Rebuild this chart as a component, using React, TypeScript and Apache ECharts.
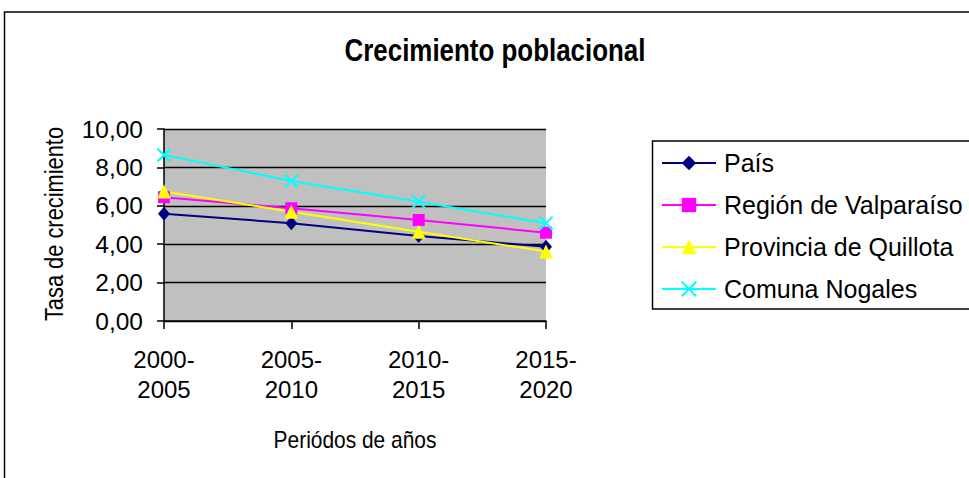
import React, { useEffect, useRef } from "react";
import * as echarts from "echarts";

const categories = ["2000-2005", "2005-2010", "2010-2015", "2015-2020"];
const seriesNames = ["País", "Región de Valparaíso", "Provincia de Quillota", "Comuna Nogales"];
const pais = [5.59, 5.09, 4.43, 3.87];
const region = [6.45, 5.87, 5.26, 4.6];
const provincia = [6.75, 5.69, 4.65, 3.62];
const comuna = [8.65, 7.29, 6.21, 5.09];
const colors = ["#000080", "#FF00FF", "#FFFF00", "#00FFFF"];
const symbols = ["diamond", "rect", "triangle", "path://M0,0L10,10M10,0L0,10"];
const symbolSizes = [[12, 14], 12, 14, 13];

const titleText = "Crecimiento poblacional";
const xTitle = "Periódos de años";
const yTitle = "Tasa de crecimiento";

const FONT = "'Liberation Sans', Arial, sans-serif";

export default function App() {
  const ref = useRef<HTMLDivElement>(null);
  useEffect(() => {
    if (!ref.current) return;
    const chart = echarts.init(ref.current, undefined, { renderer: "svg" });
    const values = [pais, region, provincia, comuna];
    chart.setOption({
      animation: false,
      backgroundColor: "#ffffff",
      graphic: [
        {
          type: "rect",
          shape: { x: 4.5, y: 12, width: 1000, height: 500 },
          style: { fill: "none", stroke: "#000", lineWidth: 1.5 },
          silent: true,
        },
        {
          type: "rect",
          shape: { x: 652.5, y: 141, width: 400, height: 168 },
          style: { fill: "none", stroke: "#000", lineWidth: 1.5 },
          silent: true,
        },
        {
          type: "text",
          x: 495,
          y: 50,
          scaleX: 0.81,
          style: {
            text: titleText,
            font: `bold 32px ${FONT}`,
            fill: "#000",
            textAlign: "center",
            textVerticalAlign: "middle",
          },
          silent: true,
        },
        {
          type: "text",
          x: 355,
          y: 440,
          scaleX: 0.91,
          style: {
            text: xTitle,
            font: `23px ${FONT}`,
            fill: "#000",
            textAlign: "center",
            textVerticalAlign: "middle",
          },
          silent: true,
        },
        {
          type: "text",
          x: 54,
          y: 224,
          rotation: Math.PI / 2,
          scaleX: 0.84,
          style: {
            text: yTitle,
            font: `26px ${FONT}`,
            fill: "#000",
            textAlign: "center",
            textVerticalAlign: "middle",
          },
          silent: true,
        },
      ],
      legend: {
        orient: "vertical",
        left: 661,
        top: 149,
        padding: 0,
        itemWidth: 54,
        itemHeight: 18,
        itemGap: 14,
        data: seriesNames,
        textStyle: { fontFamily: FONT, fontSize: 25, color: "#000", lineHeight: 28, padding: [0, 0, 0, 3] },
      },
      grid: {
        left: 164,
        top: 129,
        width: 382,
        height: 192,
        show: true,
        backgroundColor: "#C0C0C0",
        borderWidth: 0,
      },
      xAxis: {
        type: "category",
        data: categories,
        boundaryGap: false,
        axisLine: { lineStyle: { color: "#000", width: 1.5 } },
        axisTick: { show: true, alignWithLabel: true, length: 8, lineStyle: { color: "#000", width: 1.5 } },
        axisLabel: {
          interval: 0,
          margin: 23,
          fontFamily: FONT,
          fontSize: 24,
          lineHeight: 30,
          color: "#000",
          formatter: (s: string) => s.replace("-", "-\n"),
        },
        splitLine: { show: false },
      },
      yAxis: {
        type: "value",
        min: 0,
        max: 10,
        interval: 2,
        axisLine: { show: true, lineStyle: { color: "#000", width: 1.5 } },
        axisTick: { show: true, length: 7, lineStyle: { color: "#000", width: 1.5 } },
        axisLabel: {
          margin: 21,
          fontFamily: FONT,
          fontSize: 24.5,
          color: "#000",
          formatter: (v: number) => v.toFixed(2).replace(".", ","),
        },
        splitLine: { show: true, lineStyle: { color: "#000", width: 1.3 } },
      },
      series: seriesNames.map((name, i) => ({
        name,
        type: "line",
        data: values[i],
        symbol: symbols[i],
        symbolSize: symbolSizes[i],
        lineStyle: { color: colors[i], width: 2 },
        itemStyle: i === 3
          ? { color: colors[i], borderColor: colors[i], borderWidth: 2 }
          : { color: colors[i], borderWidth: 0 },
        emphasis: { disabled: true },
      })),
    });
    return () => chart.dispose();
  }, []);
  return (
    <div
      ref={ref}
      style={{ position: "absolute", left: 0, top: 0, width: 969, height: 478 }}
    />
  );
}
